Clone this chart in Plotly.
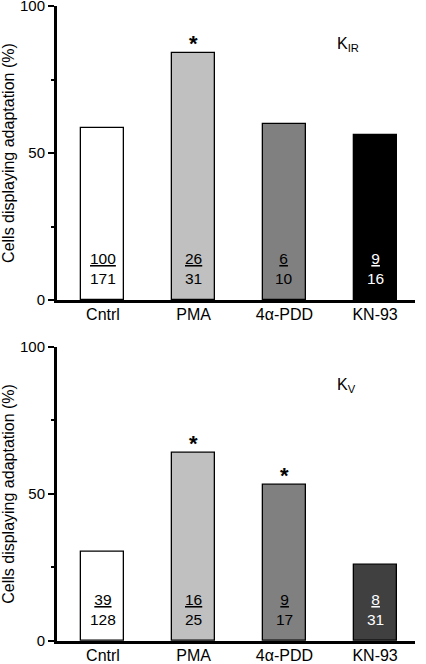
import plotly.graph_objects as go

categories = ["Cntrl", "PMA", "4α-PDD", "KN-93"]
kir_num = [100, 26, 6, 9]
kir_den = [171, 31, 10, 16]
kir_sig = [False, True, False, False]
kv_num = [39, 16, 9, 8]
kv_den = [128, 25, 17, 31]
kv_sig = [False, True, True, False]
kir_colors = ["#ffffff", "#c0c0c0", "#808080", "#000000"]
kv_colors = ["#ffffff", "#c0c0c0", "#808080", "#404040"]
text_colors = ["black", "black", "black", "white"]
y_ticks = [0, 50, 100]
y_minor = [25, 75]

FONT = "Arial, Liberation Sans, sans-serif"
W, H = 426, 664
ML, MR, MT, MB = 57, 11, 6, 23.3
PH = H - MT - MB

fig = go.Figure()
xpos = list(range(len(categories)))

panels = [
    (kir_num, kir_den, kir_sig, kir_colors, "K<sub>IR</sub>", "x", "y"),
    (kv_num, kv_den, kv_sig, kv_colors, "K<sub>V</sub>", "x2", "y2"),
]

for num, den, sig, cols, lab, xr, yr in panels:
    vals = [100.0 * n / d for n, d in zip(num, den)]
    fig.add_trace(go.Bar(
        x=xpos, y=vals, xaxis=xr, yaxis=yr, width=0.474,
        marker=dict(color=cols, line=dict(color="black", width=1.3)),
        showlegend=False, hoverinfo="skip",
    ))
    for i, (n, d) in enumerate(zip(num, den)):
        fig.add_annotation(
            x=xpos[i], y=10.7, xref=xr, yref=yr,
            text=f"<u>{n}</u><br>{d}", showarrow=False,
            font=dict(family=FONT, size=15.5, color=text_colors[i]),
            xanchor="center", yanchor="middle", align="center",
        )
        if sig[i]:
            fig.add_annotation(
                x=xpos[i], y=vals[i], xref=xr, yref=yr, text="<b>*</b>",
                showarrow=False, font=dict(family=FONT, size=22, color="black"),
                xanchor="center", yanchor="bottom", yshift=-5,
            )
    fig.add_annotation(
        x=2.56, y=87, xref=xr, yref=yr, text=lab, showarrow=False,
        font=dict(family=FONT, size=16, color="black"),
        xanchor="left", yanchor="middle",
    )

top_dom = [(H - MB - 300) / PH, 1.0]
bot_dom = [0.0, (H - MB - 346.7) / PH]

xaxis_common = dict(
    domain=[0, 1], range=[-0.507, 3.44], tickvals=xpos, ticktext=categories,
    showline=True, linewidth=3, linecolor="black", ticks="", showgrid=False,
    zeroline=False, ticklabelstandoff=-2, automargin=False,
    ticklabeloverflow="allow",
    tickfont=dict(family=FONT, size=16, color="black"),
)
yaxis_common = dict(
    range=[0, 100], tickvals=y_ticks, showline=True, linewidth=3,
    linecolor="black", ticks="outside", ticklen=6, tickwidth=2,
    tickcolor="black", showgrid=False, zeroline=False, automargin=False,
    ticklabeloverflow="allow",
    tickfont=dict(family=FONT, size=15, color="black"),
    minor=dict(tickvals=y_minor, ticks="outside", ticklen=3, tickwidth=2,
               tickcolor="black", showgrid=False),
    title=dict(text="Cells displaying adaptation (%)",
               font=dict(family=FONT, size=16, color="black"), standoff=8),
)

fig.update_layout(
    width=W, height=H, margin=dict(l=ML, r=MR, t=MT, b=MB, autoexpand=False),
    paper_bgcolor="white", plot_bgcolor="white",
    xaxis=dict(xaxis_common, anchor="y"),
    yaxis=dict(yaxis_common, domain=top_dom, anchor="x"),
    xaxis2=dict(xaxis_common, anchor="y2"),
    yaxis2=dict(yaxis_common, domain=bot_dom, anchor="x2"),
    bargap=0,
)

fig.write_html(
    "out.html",
    config={"displayModeBar": False},
    post_script="document.body.style.margin='0';document.body.style.overflow='hidden';",
)
